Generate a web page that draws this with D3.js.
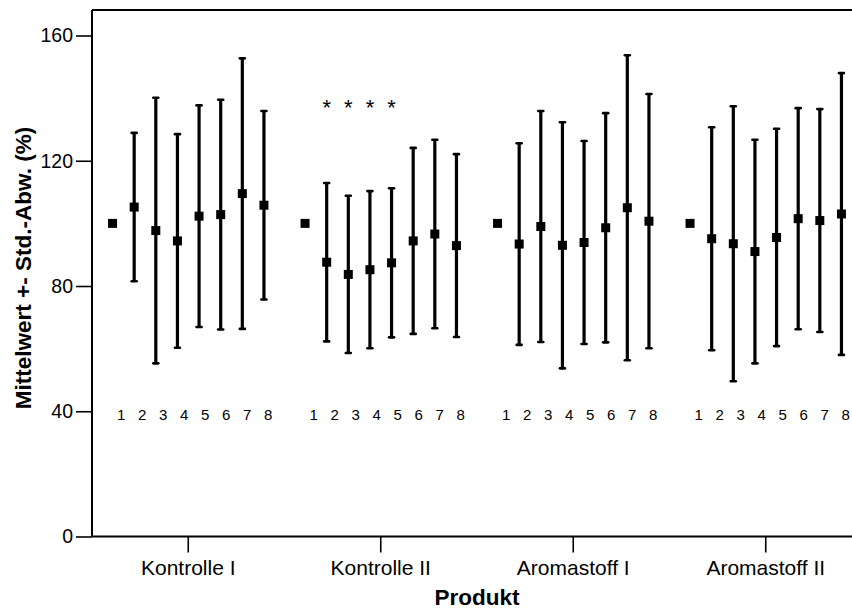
<!DOCTYPE html>
<html>
<head>
<meta charset="utf-8">
<script src="https://cdn.jsdelivr.net/npm/d3@7"></script>
<style>
  html, body { margin: 0; padding: 0; background: #fff; }
  svg { display: block; font-family: "Liberation Sans", Arial, Helvetica, sans-serif; }
</style>
</head>
<body>
<svg id="chart" width="852" height="609"></svg>
<script>
// Produktgruppen und Proben
const groups = ["Kontrolle I", "Kontrolle II", "Aromastoff I", "Aromastoff II"];
const products = [1, 2, 3, 4, 5, 6, 7, 8];

// Mittelwerte (% der Referenz) je Gruppe
const meanKontrolleI   = [100, 105.2, 97.7, 94.4, 102.3, 102.8, 109.5, 105.8];
const meanKontrolleII  = [100, 87.6, 83.7, 85.2, 87.4, 94.4, 96.6, 92.9];
const meanAromastoffI  = [100, 93.4, 99.0, 93.0, 93.9, 98.6, 105.0, 100.7];
const meanAromastoffII = [100, 95.1, 93.5, 91.0, 95.5, 101.5, 100.9, 103.0];

// Standardabweichungen (Probe 1 = Referenz ohne Streuung)
const sdKontrolleI   = [0, 23.7, 42.4, 34.1, 35.4, 36.7, 43.2, 30.1];
const sdKontrolleII  = [0, 25.3, 25.1, 25.1, 23.8, 29.7, 30.1, 29.2];
const sdAromastoffI  = [0, 32.2, 36.9, 39.3, 32.4, 36.6, 48.7, 40.6];
const sdAromastoffII = [0, 35.6, 43.9, 35.7, 34.7, 35.3, 35.6, 45.0];

// Signifikanzmarkierung (*) je Gruppe und Probe
const sigKontrolleI   = [0, 0, 0, 0, 0, 0, 0, 0];
const sigKontrolleII  = [0, 1, 1, 1, 1, 0, 0, 0];
const sigAromastoffI  = [0, 0, 0, 0, 0, 0, 0, 0];
const sigAromastoffII = [0, 0, 0, 0, 0, 0, 0, 0];

const yTicks = [0, 40, 80, 120, 160];

const means = [meanKontrolleI, meanKontrolleII, meanAromastoffI, meanAromastoffII];
const sds   = [sdKontrolleI, sdKontrolleII, sdAromastoffI, sdAromastoffII];
const sigs  = [sigKontrolleI, sigKontrolleII, sigAromastoffI, sigAromastoffII];

const rows = [];
groups.forEach((g, gi) => {
  products.forEach((p, pi) => {
    rows.push({ group: g, product: p, mean: means[gi][pi], sd: sds[gi][pi], sig: sigs[gi][pi] });
  });
});

const svg = d3.select("#chart");
const plotLeft = 92, plotRight = 862, plotTop = 10, plotBottom = 536.5;

const x = d3.scaleBand().domain(groups).range([plotLeft, plotRight]).padding(0);
const inner = d3.scaleLinear().domain([1, 8]).range([-75.7, 75.7]);
const labelInner = d3.scaleLinear().domain([1, 8]).range([-73.5, 73.5]);
const y = d3.scaleLinear().domain([0, 160]).range([plotBottom, 35.5]);

const cx = d => x(d.group) + x.bandwidth() / 2;
const px = d => cx(d) + inner(d.product);

// Rahmen oben
svg.append("line")
  .attr("x1", plotLeft).attr("x2", plotRight)
  .attr("y1", plotTop).attr("y2", plotTop)
  .attr("stroke", "#000").attr("stroke-width", 2);

// Y-Achse
const yAxis = svg.append("g")
  .attr("transform", `translate(${plotLeft},0)`)
  .call(d3.axisLeft(y).tickValues(yTicks).tickSize(16).tickPadding(3).tickSizeOuter(0));
yAxis.select(".domain").remove();
yAxis.append("line")
  .attr("x1", 0).attr("x2", 0).attr("y1", plotTop).attr("y2", plotBottom)
  .attr("stroke", "#000").attr("stroke-width", 2);
yAxis.selectAll(".tick line").attr("stroke-width", 1.6);
yAxis.selectAll(".tick text")
  .attr("font-size", 19.5).attr("fill", "#000")
  .attr("font-family", "'Liberation Sans', Arial, sans-serif");

// X-Achse
const xAxis = svg.append("g")
  .attr("transform", `translate(0,${plotBottom})`)
  .call(d3.axisBottom(x).tickSize(16).tickPadding(8).tickSizeOuter(0));
xAxis.select(".domain").remove();
xAxis.append("line")
  .attr("x1", plotLeft).attr("x2", plotRight).attr("y1", 0).attr("y2", 0)
  .attr("stroke", "#000").attr("stroke-width", 2);
xAxis.selectAll(".tick line").attr("stroke-width", 1.6);
xAxis.selectAll(".tick text")
  .attr("font-size", 21).attr("fill", "#000")
  .attr("font-family", "'Liberation Sans', Arial, sans-serif");

// Achsentitel
svg.append("text")
  .attr("transform", `translate(31,268) rotate(-90)`)
  .attr("text-anchor", "middle")
  .attr("font-size", 22.5).attr("font-weight", "bold")
  .text("Mittelwert +- Std.-Abw. (%)");

svg.append("text")
  .attr("x", (plotLeft + plotRight) / 2).attr("y", 605)
  .attr("text-anchor", "middle")
  .attr("font-size", 22.5).attr("font-weight", "bold")
  .text("Produkt");

// Fehlerbalken (Mittelwert ± SD)
const bars = rows.filter(d => d.sd > 0);
const eb = svg.append("g").attr("stroke", "#000");
eb.selectAll("line.err").data(bars).join("line")
  .attr("class", "err")
  .attr("x1", px).attr("x2", px)
  .attr("y1", d => y(d.mean + d.sd)).attr("y2", d => y(d.mean - d.sd))
  .attr("stroke-width", 3.2);
eb.selectAll("line.capTop").data(bars).join("line")
  .attr("class", "capTop")
  .attr("x1", d => px(d) - 2.5).attr("x2", d => px(d) + 2.5)
  .attr("y1", d => y(d.mean + d.sd)).attr("y2", d => y(d.mean + d.sd))
  .attr("stroke-width", 2.6).attr("stroke-linecap", "round");
eb.selectAll("line.capBot").data(bars).join("line")
  .attr("class", "capBot")
  .attr("x1", d => px(d) - 2.5).attr("x2", d => px(d) + 2.5)
  .attr("y1", d => y(d.mean - d.sd)).attr("y2", d => y(d.mean - d.sd))
  .attr("stroke-width", 2.6).attr("stroke-linecap", "round");

// Mittelwert-Marker
const sq = 9;
svg.append("g").selectAll("rect").data(rows).join("rect")
  .attr("x", d => px(d) - sq / 2).attr("y", d => y(d.mean) - sq / 2)
  .attr("width", sq).attr("height", sq)
  .attr("fill", "#000");

// Probennummern
svg.append("g").selectAll("text").data(rows).join("text")
  .attr("x", d => cx(d) + labelInner(d.product) + 6.5).attr("y", y(40) + 9)
  .attr("text-anchor", "middle")
  .attr("font-size", 15)
  .text(d => d.product);

// Signifikanzsterne
svg.append("g").selectAll("text").data(rows.filter(d => d.sig)).join("text")
  .attr("x", px).attr("y", y(138) + 11)
  .attr("text-anchor", "middle")
  .attr("font-size", 22)
  .text("*");
</script>
</body>
</html>
